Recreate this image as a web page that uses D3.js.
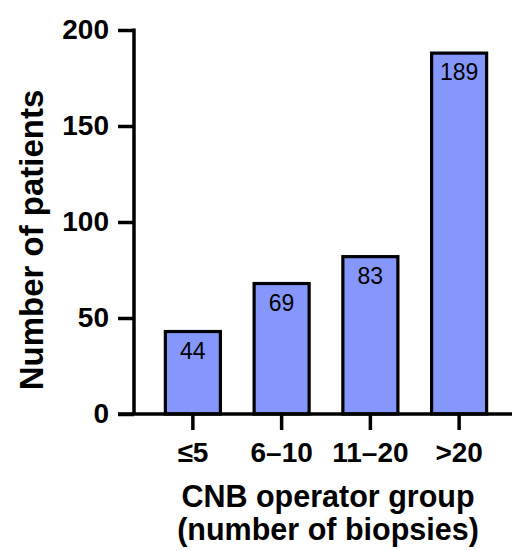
<!DOCTYPE html>
<html><head><meta charset="utf-8">
<script src="https://cdn.jsdelivr.net/npm/d3@7"></script>
<style>body{margin:0;background:#fff}svg{display:block}text{font-family:Arial,"Liberation Sans",Helvetica,sans-serif}</style>
</head><body>
<script>
const categories = ["≤5", "6–10", "11–20", ">20"];
const values = [44, 69, 83, 189];
const yTicks = [0, 50, 100, 150, 200];
const yTitle = "Number of patients";
const xTitleLines = ["CNB operator group", "(number of biopsies)"];

const W = 512, H = 551;
const svg = d3.select("body").append("svg").attr("width", W).attr("height", H);

const y = d3.scaleLinear().domain([0, 200]).range([414, 30]);
const x = d3.scaleBand().domain(categories).range([148.5, 503.5]).paddingInner(0.38).paddingOuter(0.19);

const sw = 3.2;
// bars
svg.selectAll("rect.bar").data(values).join("rect")
  .attr("class", "bar")
  .attr("x", (d, i) => x(categories[i]))
  .attr("width", x.bandwidth())
  .attr("y", d => y(d) + 2)
  .attr("height", d => y(0) - y(d) - 2)
  .attr("fill", "#8597FC")
  .attr("stroke", "#000")
  .attr("stroke-width", sw);

// value labels
svg.selectAll("text.val").data(values).join("text")
  .attr("class", "val")
  .attr("x", (d, i) => x(categories[i]) + x.bandwidth() / 2)
  .attr("y", d => y(d) + 29)
  .attr("text-anchor", "middle")
  .attr("font-size", 23)
  .attr("fill", "#000")
  .text(d => d);

// y axis
const yAxis = svg.append("g").attr("transform", "translate(134,0)")
  .call(d3.axisLeft(y).tickValues(yTicks).tickSize(16).tickPadding(9));
yAxis.select(".domain").attr("d", `M0,${y(200)-1.5}V${y(0)}`).attr("stroke-width", 3.5).attr("stroke", "#000");
yAxis.selectAll(".tick line").attr("stroke-width", 3.5).attr("stroke", "#000");
yAxis.selectAll(".tick text").attr("font-size", 28).attr("font-weight", "bold").attr("fill", "#000")
  .attr("font-family", "Arial, 'Liberation Sans', sans-serif");

// x axis
const xAxis = svg.append("g").attr("transform", `translate(0,${y(0)})`)
  .call(d3.axisBottom(x).tickSize(16).tickPadding(12));
xAxis.select(".domain").attr("d", `M118,0H512`).attr("stroke-width", 3.5).attr("stroke", "#000");
xAxis.selectAll(".tick line").attr("stroke-width", 3.5).attr("stroke", "#000");
xAxis.selectAll(".tick text").attr("font-size", 28).attr("font-weight", "bold").attr("fill", "#000")
  .attr("font-family", "Arial, 'Liberation Sans', sans-serif");

// y title
svg.append("text")
  .attr("transform", "translate(43,240) rotate(-90)")
  .attr("text-anchor", "middle")
  .attr("font-size", 33).attr("font-weight", "bold").attr("fill", "#000")
  .text(yTitle);

// x title
svg.selectAll("text.xt").data(xTitleLines).join("text")
  .attr("class", "xt")
  .attr("x", 328)
  .attr("y", (d, i) => 507 + i * 33)
  .attr("text-anchor", "middle")
  .attr("font-size", 30.5).attr("font-weight", "bold").attr("fill", "#000")
  .text(d => d);
</script>
</body></html>
